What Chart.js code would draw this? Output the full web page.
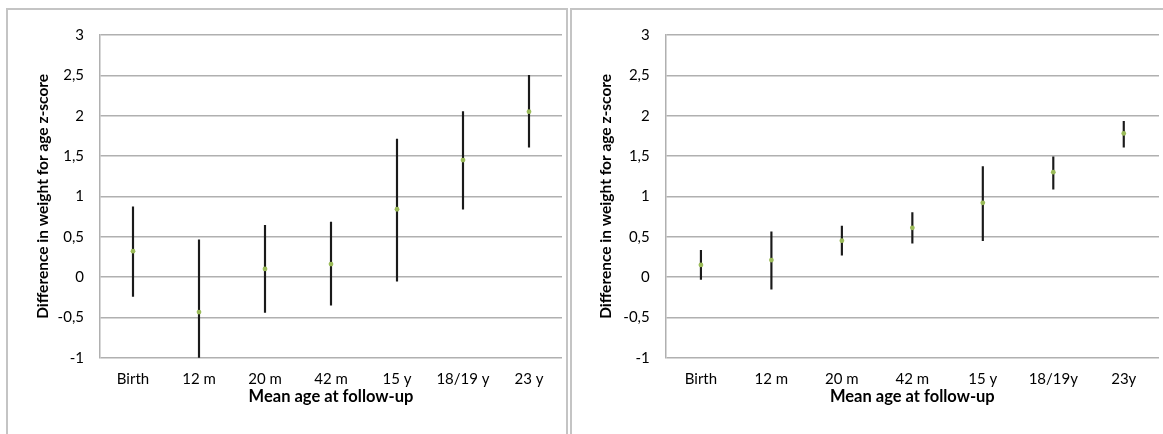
<!DOCTYPE html>
<html>
<head>
<meta charset="utf-8">
<script src="https://cdn.jsdelivr.net/npm/chart.js@4.4.1/dist/chart.umd.min.js"></script>
<style>
  html, body { margin: 0; padding: 0; background: #fff; }
  body { width: 1163px; height: 434px; position: relative; overflow: hidden; }
  .panel { position: absolute; top: 8px; height: 440px; border: 2px solid #c4c4c4; border-bottom: none; box-sizing: border-box; }
  canvas { position: absolute; }
</style>
</head>
<body>
<div class="panel" style="left:6px; width:562px;"></div>
<div class="panel" style="left:570px; width:600px;"></div>
<canvas id="leftChart" width="558" height="424" style="left:8px; top:10px;"></canvas>
<canvas id="rightChart" width="590" height="424" style="left:573px; top:10px;"></canvas>
<script>
const ageLabels = ["Birth", "12 m", "20 m", "42 m", "15 y", "18/19 y", "23 y"];
const ageLabelsRight = ["Birth", "12 m", "20 m", "42 m", "15 y", "18/19y", "23y"];

// left panel: mean difference and 95% CI
const leftMean = [0.32, -0.435, 0.10, 0.16, 0.84, 1.45, 2.05];
const leftLow = [-0.24, -1.0, -0.44, -0.35, -0.05, 0.84, 1.61];
const leftHigh = [0.87, 0.46, 0.64, 0.68, 1.71, 2.05, 2.50];

// right panel
const rightMean = [0.15, 0.21, 0.45, 0.61, 0.92, 1.30, 1.78];
const rightLow = [-0.03, -0.15, 0.27, 0.42, 0.45, 1.09, 1.61];
const rightHigh = [0.33, 0.56, 0.63, 0.80, 1.37, 1.49, 1.93];

const yTicks = [-1, -0.5, 0, 0.5, 1, 1.5, 2, 2.5, 3];

const fontFamily = "Lato, 'Open Sans', sans-serif";

function makeChart(id, labels, mean, low, high, yWidth, yTitlePad) {
  const ctx = document.getElementById(id).getContext("2d");
  return new Chart(ctx, {
    data: {
      labels: labels,
      datasets: [
        {
          type: "line",
          data: mean,
          showLine: false,
          pointRadius: 2.4,
          pointBackgroundColor: "#9bbb59",
          pointBorderWidth: 0,
          order: 1
        },
        {
          type: "bar",
          data: low.map((v, i) => [v, high[i]]),
          backgroundColor: "#1a1a1a",
          barThickness: 1.5,
          borderWidth: 0,
          order: 2
        }
      ]
    },
    options: {
      responsive: false,
      animation: false,
      devicePixelRatio: 1,
      layout: { padding: { top: 21, left: 0, right: 0, bottom: 0 } },
      plugins: { legend: { display: false }, tooltip: { enabled: false } },
      scales: {
        x: {
          type: "category",
          offset: true,
          grid: { display: false, drawTicks: false },
          border: { display: false },
          ticks: { color: "#000", padding: 12, font: { family: fontFamily, size: 15 } },
          title: {
            display: true,
            text: "Mean age at follow-up",
            color: "#000",
            padding: { top: 0, bottom: 27 },
            font: { family: fontFamily, size: 16.5, weight: "bold" }
          },
          afterFit: (scale) => { scale.height = 76.3; }
        },
        y: {
          min: -1,
          max: 3,
          afterBuildTicks: (scale) => { scale.ticks = yTicks.map(v => ({ value: v })); },
          grid: { color: "#b0b0b0", lineWidth: 1.5, drawTicks: false },
          border: { display: true, color: "#b0b0b0", width: 1.5 },
          ticks: {
            color: "#000",
            padding: 16,
            font: { family: fontFamily, size: 15 },
            callback: (v) => String(v).replace(".", ",")
          },
          title: {
            display: true,
            text: "Difference in weight for age z-score",
            color: "#000",
            padding: { top: yTitlePad, bottom: 0 },
            font: { family: fontFamily, size: 15.5, weight: "bold" }
          },
          afterFit: (scale) => { scale.width = yWidth; }
        }
      }
    }
  });
}

makeChart("leftChart", ageLabels, leftMean, leftLow, leftHigh, 92, 26);
makeChart("rightChart", ageLabelsRight, rightMean, rightLow, rightHigh, 92.7, 23.5);
</script>
</body>
</html>
